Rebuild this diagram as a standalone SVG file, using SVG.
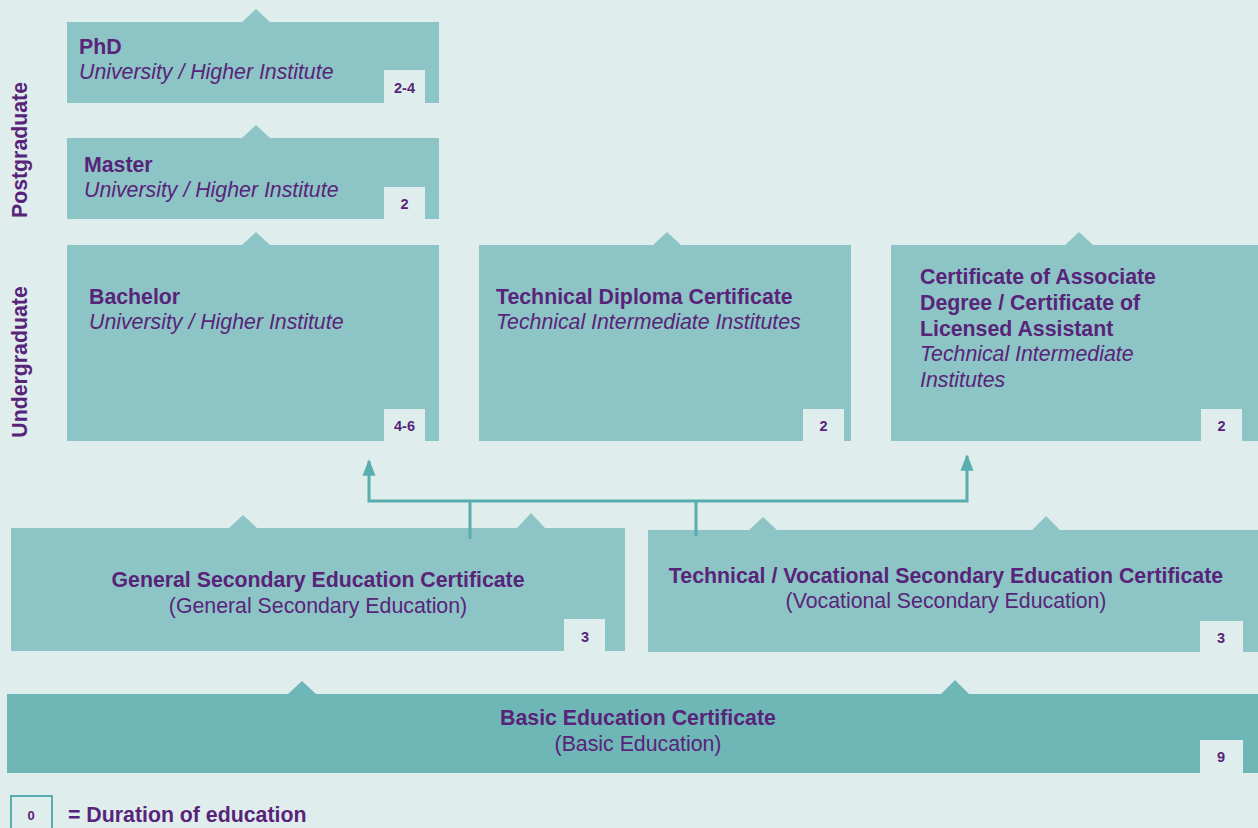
<svg xmlns="http://www.w3.org/2000/svg" width="1258" height="828" viewBox="0 0 1258 828">
<defs>
<style>
.bg{fill:#dfeded}
.box{fill:#8dc4c5}
.basic{fill:#6fb6b6}
.dur{fill:#dfeded}
text{font-family:"Liberation Sans",Arial,sans-serif;fill:#58247a}
.h{font-size:21.3px;font-weight:bold}
.i{font-size:21.3px;font-style:italic}
.r{font-size:21.3px}
.n{font-size:14.5px;font-weight:bold;text-anchor:middle}
.c{text-anchor:middle}
.conn{fill:none;stroke:#58aeae;stroke-width:3}
</style>
<marker id="ah" viewBox="0 0 10 10" refX="9" refY="5" markerWidth="5.5" markerHeight="5.5" orient="auto-start-reverse" markerUnits="strokeWidth">
<path d="M0,1 L10,5 L0,9 z" fill="#58aeae"/>
</marker>
</defs>
<rect class="bg" x="0" y="0" width="1258" height="828"/>

<g id="label-postgraduate"><text class="h" transform="translate(27,150) rotate(-90)" text-anchor="middle">Postgraduate</text></g>
<g id="label-undergraduate"><text class="h" transform="translate(27,362) rotate(-90)" text-anchor="middle">Undergraduate</text></g>

<g id="phd">
<path class="box" d="M67,22 H242 L256,9 L270,22 H439 V103 H67 Z"/>
<text class="h" x="79" y="54">PhD</text>
<text class="i" x="79" y="79">University / Higher Institute</text>
<rect class="dur" x="384" y="70" width="41" height="33"/>
<text class="n" x="404.5" y="93">2-4</text>
</g>

<g id="master">
<path class="box" d="M67,138 H242 L256,125 L270,138 H439 V219 H67 Z"/>
<text class="h" x="84" y="172">Master</text>
<text class="i" x="84" y="197">University / Higher Institute</text>
<rect class="dur" x="384" y="187" width="41" height="32"/>
<text class="n" x="404.5" y="209">2</text>
</g>

<g id="bachelor">
<path class="box" d="M67,245 H242 L256,232 L270,245 H439 V441 H67 Z"/>
<text class="h" x="89" y="304">Bachelor</text>
<text class="i" x="89" y="329">University / Higher Institute</text>
<rect class="dur" x="384" y="409" width="41" height="32"/>
<text class="n" x="404.5" y="431">4-6</text>
</g>

<g id="technical-diploma">
<path class="box" d="M479,245 H653 L667,232 L681,245 H851 V441 H479 Z"/>
<text class="h" x="496" y="304">Technical Diploma Certificate</text>
<text class="i" x="496" y="329">Technical Intermediate Institutes</text>
<rect class="dur" x="803" y="409" width="41" height="32"/>
<text class="n" x="823.5" y="431">2</text>
</g>

<g id="associate">
<path class="box" d="M891,245 H1065 L1079,232 L1093,245 H1258 V441 H891 Z"/>
<text class="h" x="920" y="284">Certificate of Associate</text>
<text class="h" x="920" y="310">Degree / Certificate of</text>
<text class="h" x="920" y="336">Licensed Assistant</text>
<text class="i" x="920" y="361">Technical Intermediate</text>
<text class="i" x="920" y="387">Institutes</text>
<rect class="dur" x="1201" y="409" width="41" height="32"/>
<text class="n" x="1221.5" y="431">2</text>
</g>

<g id="general-secondary">
<path class="box" d="M11,528 H229 L243,515 L257,528 H517 L531,513 L545,528 H625 V651 H11 Z"/>
<text class="h c" x="318" y="587">General Secondary Education Certificate</text>
<text class="r c" x="318" y="613">(General Secondary Education)</text>
<rect class="dur" x="564" y="619" width="41" height="32"/>
<text class="n" x="585" y="642">3</text>
</g>

<g id="vocational-secondary">
<path class="box" d="M648,530 H749 L763,517 L777,530 H1032 L1046,516 L1060,530 H1258 V652 H648 Z"/>
<text class="h c" x="946" y="583">Technical / Vocational Secondary Education Certificate</text>
<text class="r c" x="946" y="608">(Vocational Secondary Education)</text>
<rect class="dur" x="1200" y="621" width="43" height="31"/>
<text class="n" x="1221" y="643">3</text>
</g>

<g id="basic">
<path class="basic" d="M7,694 H288 L302,681 L316,694 H941 L955,680 L969,694 H1258 V773 H7 Z"/>
<text class="h c" x="638" y="725">Basic Education Certificate</text>
<text class="r c" x="638" y="751">(Basic Education)</text>
<rect class="dur" x="1200" y="740" width="43" height="33"/>
<text class="n" x="1221" y="762">9</text>
</g>

<g id="connectors">
<path class="conn" d="M369,461 V501 H967 V456" marker-start="url(#ah)" marker-end="url(#ah)"/>
<path class="conn" d="M470,539 V501"/>
<path class="conn" d="M696,536 V501"/>
</g>

<g id="legend">
<rect x="11" y="796" width="41" height="36" fill="#dfeded" stroke="#58aeae" stroke-width="2"/>
<text class="n" x="31" y="820" style="font-size:13px">0</text>
<text class="h" x="68" y="822">= Duration of education</text>
</g>
</svg>
